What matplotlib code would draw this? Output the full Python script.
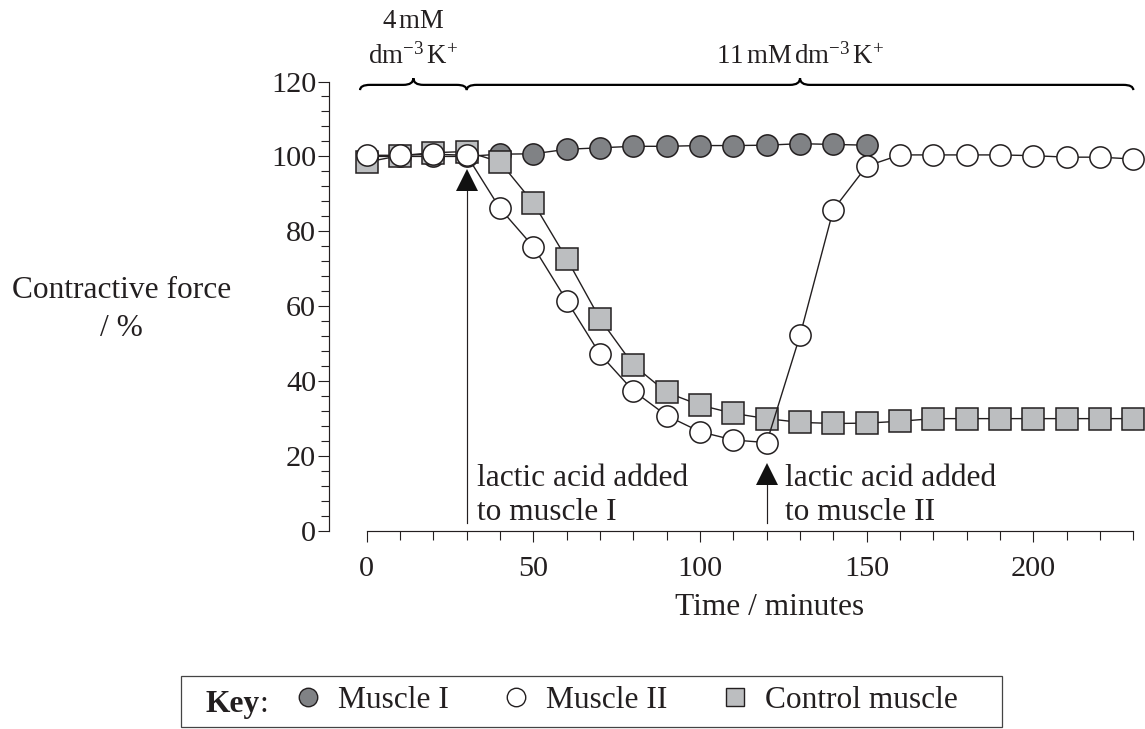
import numpy as np
import matplotlib.pyplot as plt
from matplotlib.lines import Line2D
from matplotlib.patches import PathPatch, Rectangle
from matplotlib.path import Path
from matplotlib.ticker import FixedLocator

plt.rcParams["font.family"] = ["Liberation Serif", "DejaVu Serif"]
plt.rcParams["mathtext.fontset"] = "custom"
plt.rcParams["mathtext.rm"] = "Liberation Serif"
plt.rcParams["mathtext.it"] = "Liberation Serif:italic"

INK = "#231f20"

# data (time in minutes, force in %)
time = [0, 10, 20, 30, 40, 50, 60, 70, 80, 90, 100, 110,
        120, 130, 140, 150, 160, 170, 180, 190, 200, 210, 220, 230]
time_m1 = time[:16]
muscle_1 = [100, 100, 100, 100, 100.6, 100.7, 101.9, 102.3, 102.7, 102.7,
            102.9, 102.9, 103.0, 103.4, 103.2, 103.0]
muscle_2 = [100.3, 100.3, 100.6, 100.3, 86.1, 75.9, 61.5, 47.2, 37.4, 30.8,
            26.5, 24.3, 23.6, 52.2, 85.8, 97.4, 100.4, 100.4, 100.4, 100.4,
            100.2, 99.8, 99.8, 99.3]
control = [98.5, 100.2, 101.0, 101.3, 98.5, 87.6, 72.7, 56.6, 44.3, 37.0,
           33.6, 31.4, 30.0, 29.0, 28.7, 28.8, 29.3, 30.0, 30.0, 30.0,
           30.0, 30.0, 30.0, 30.0]
series_labels = ["Muscle I", "Muscle II", "Control muscle"]

# arrows: (time, tip, base) for lactic acid additions, and where their text starts
arrows = [(30, 96.6, 90.6), (120, 18.2, 12.5)]
arrow_text_x = [33.1, 125.6]
arrow_texts = [("lactic acid added", "to muscle I"), ("lactic acid added", "to muscle II")]

W, H = 1145, 729
fig = plt.figure(figsize=(W / 100, H / 100), dpi=100)
ax = fig.add_axes([329 / W, (H - 531) / H, (1140 - 329) / W, (531 - 81.5) / H])
ax.set_xlim(-11.31, 232)
ax.set_ylim(0, 120)

fs = 22.6
mk = dict(ms=15.3, mew=1.1, mec=INK, lw=1.0, color=INK, clip_on=False)
ax.plot(time_m1, muscle_1, marker="o", mfc="#808285", zorder=3, **mk)
ax.plot(time, control, marker="s", mfc="#bcbec0", zorder=4, **mk)
ax.plot(time, muscle_2, marker="o", mfc="white", zorder=5, **mk)

for (t, tip, base), tx, (l1, l2) in zip(arrows, arrow_text_x, arrow_texts):
    ax.plot([t, t], [2.1, (tip + base) / 2], color=INK, lw=0.85, zorder=6, clip_on=False)
    ax.plot([t], [(tip + base) / 2], marker="^", ms=15.6, color="#111111", mew=0, zorder=7,
            clip_on=False)
    ax.text(tx, 12.0, l1, fontsize=fs, color=INK, va="baseline", ha="left")
    ax.text(tx, 2.9, l2, fontsize=fs, color=INK, va="baseline", ha="left")


def brace(x1, x2, y, r=3.0, d1=1.4, d2=1.8):
    xm = (x1 + x2) / 2
    verts = [(x1, y - d1), (x1, y), (x1 + r, y), (xm - r, y),
             (xm, y), (xm, y + d2), (xm, y), (xm + r, y),
             (x2 - r, y), (x2, y), (x2, y - d1)]
    codes = [Path.MOVETO, Path.CURVE3, Path.CURVE3, Path.LINETO,
             Path.CURVE3, Path.CURVE3, Path.CURVE3, Path.CURVE3,
             Path.LINETO, Path.CURVE3, Path.CURVE3]
    ax.add_patch(PathPatch(Path(verts, codes), fill=False, lw=1.6, ec="black",
                           clip_on=False))
    return xm


m1 = brace(-2, 30, 119.1)
m2 = brace(30, 230, 119.1)
bfs = 19.4
ax.text(m1, 134.2, "4$\\,$mM", fontsize=bfs, ha="center", va="baseline", color=INK)
ax.text(m1, 124.9, "dm$^{-3}\\,$K$^{+}$", fontsize=bfs, ha="center", va="baseline", color=INK)
ax.text(m2, 124.9, "11$\\,$mM$\\,$dm$^{-3}\\,$K$^{+}$", fontsize=bfs, ha="center",
        va="baseline", color=INK)

# axes styling
for s in ["top", "right"]:
    ax.spines[s].set_visible(False)
ax.spines["left"].set_bounds(0, 120)
ax.spines["bottom"].set_bounds(0, 230)
for s in ["left", "bottom"]:
    ax.spines[s].set_color(INK)
    ax.spines[s].set_linewidth(0.85)

ax.set_xticks([0, 50, 100, 150, 200])
ax.xaxis.set_minor_locator(FixedLocator(np.arange(0, 231, 10)))
ax.set_yticks(np.arange(0, 121, 20))
ax.yaxis.set_minor_locator(FixedLocator(np.arange(0, 121, 4)))
ax.tick_params(axis="x", which="major", length=8, width=0.8, pad=10, labelsize=21.8,
               colors=INK)
ax.tick_params(axis="x", which="minor", length=6.5, width=0.8, colors=INK)
ax.tick_params(axis="y", which="major", length=8, width=0.8, pad=1.2, labelsize=21.8,
               colors=INK)
ax.tick_params(axis="y", which="minor", length=5.5, width=0.8, colors=INK)

ax.set_xlabel("Time / minutes", fontsize=fs, color=INK, va="baseline")
ax.xaxis.set_label_coords((770 - 329) / (1140 - 329), (531 - 615) / (531 - 81.5))

fig.text(121.7 / W, (H - 298.3) / H, "Contractive force", fontsize=fs, ha="center",
         va="baseline", color=INK)
fig.text(121.7 / W, (H - 336) / H, "/ %", fontsize=fs, ha="center", va="baseline", color=INK)

# key box
fig.add_artist(Rectangle((181 / W, 2 / H), (1002 - 181) / W, (727 - 676) / H,
                         transform=fig.transFigure, fill=False, lw=0.9, ec="#444444"))
fig.text(205 / W, (H - 711.7) / H, "Key", fontsize=fs, weight="bold", va="baseline", color=INK)
fig.text(259.5 / W, (H - 711.7) / H, ":", fontsize=fs, va="baseline", color=INK)
hk = dict(ls="none", ms=13.3, mew=1.0, mec=INK)
handles = [Line2D([], [], marker="o", mfc="#808285", **hk),
           Line2D([], [], marker="o", mfc="white", **hk),
           Line2D([], [], marker="s", mfc="#bcbec0", **hk)]
fig.legend(handles, series_labels, loc="center left", bbox_to_anchor=(298.5 / W, (H - 700.4) / H),
           ncol=3, frameon=False, handlelength=0.6, handletextpad=0.65, columnspacing=1.85,
           borderpad=0, borderaxespad=0, prop={"size": fs}, labelcolor=INK)

fig.savefig("out.png", dpi=100)
